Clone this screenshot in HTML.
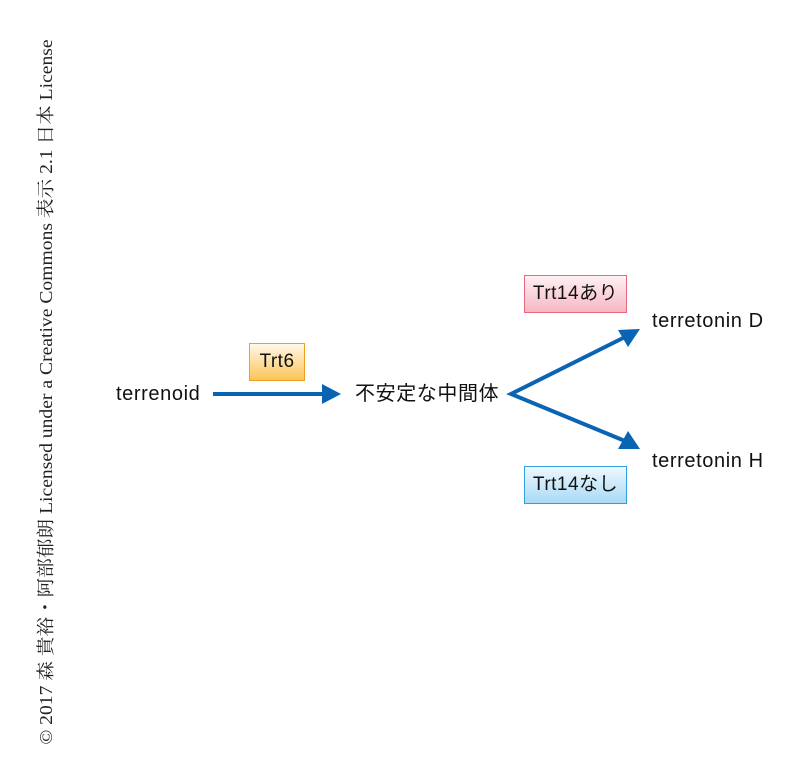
<!DOCTYPE html>
<html><head><meta charset="utf-8"><style>
body{margin:0;width:801px;height:780px;background:#fff;position:relative;overflow:hidden;font-family:"Liberation Sans","Noto Sans CJK JP",sans-serif;}
.t{position:absolute;font-size:20px;color:#111;white-space:nowrap;line-height:22px;letter-spacing:0.6px}
.b{position:absolute;box-sizing:border-box;font-size:19px;text-align:center;line-height:36px;color:#111;letter-spacing:0.5px;white-space:nowrap}
.v{position:absolute;left:45px;top:392px;transform:translate(-50%,-50%) rotate(-90deg) scaleX(1.09);font-family:"Liberation Serif","Noto Serif CJK SC",serif;font-size:18px;white-space:nowrap;color:#222}
</style></head><body>
<div class="v">© 2017 森 貴裕・阿部郁朗 Licensed under a Creative Commons 表示 2.1 日本 License</div>
<div class="b" style="left:249px;top:343px;width:56px;height:38px;border:1px solid #f0a020;background:linear-gradient(#fff8e8,#fbc458)">Trt6</div>
<div class="b" style="left:524px;top:275px;width:103px;height:38px;border:1px solid #e86880;background:linear-gradient(#fff0f2,#f6b8c4)">Trt14あり</div>
<div class="b" style="left:524px;top:466px;width:103px;height:38px;border:1px solid #30a0e0;background:linear-gradient(#eef8ff,#a8daf6)">Trt14なし</div>
<div class="t" style="left:116px;top:383px">terrenoid</div>
<div class="t" style="left:355px;top:383px">不安定な中間体</div>
<div class="t" style="left:652px;top:310px">terretonin D</div>
<div class="t" style="left:652px;top:450px">terretonin H</div>
<svg width="801" height="780" style="position:absolute;left:0;top:0">
<g stroke="#0a64b4" stroke-width="4" fill="none">
<line x1="213" y1="394" x2="325" y2="394"/>
<polyline points="625,337 511,394 625,441"/>
</g>
<g fill="#0a64b4">
<polygon points="341,394 322,384 322,404"/>
<polygon points="640,329 618,330 628,347"/>
<polygon points="640,449 618,449 628,431"/>
</g>
</svg>
</body></html>
